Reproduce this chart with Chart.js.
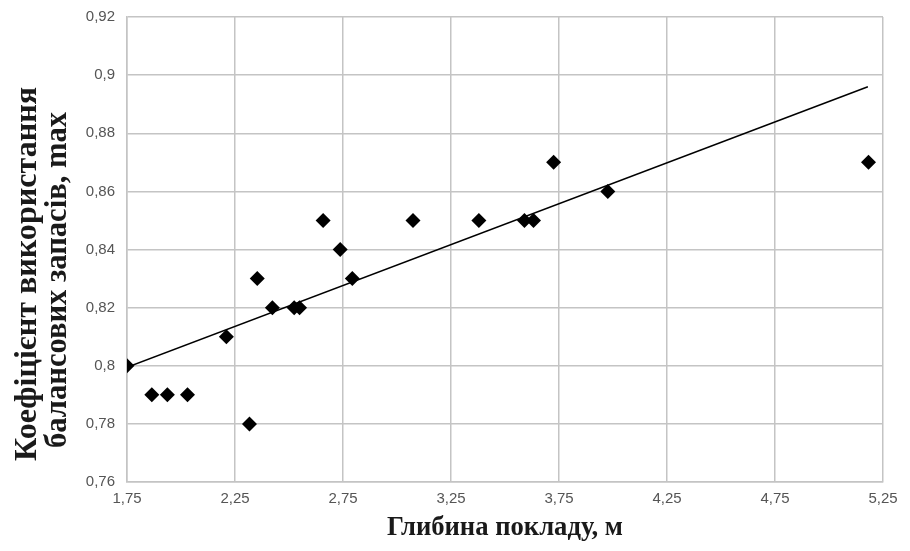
<!DOCTYPE html>
<html>
<head>
<meta charset="utf-8">
<script src="https://cdn.jsdelivr.net/npm/chart.js@4"></script>
<style>
  html, body { margin: 0; padding: 0; background: #fff; }
  #wrap { width: 910px; height: 551px; }
</style>
</head>
<body>
<div id="wrap"><canvas id="chart"></canvas></div>
<script>
// depth of the seam (m) and balance reserves usage coefficient
const depth = [1.75, 1.865, 1.937, 2.03, 2.21, 2.317, 2.353, 2.423, 2.524, 2.549,
               2.658, 2.737, 2.793, 3.074, 3.379, 3.59, 3.632, 3.725, 3.976, 5.183];
const coef  = [0.80, 0.79, 0.79, 0.79, 0.81, 0.78, 0.83, 0.82, 0.82, 0.82,
               0.85, 0.84, 0.83, 0.85, 0.85, 0.85, 0.85, 0.87, 0.86, 0.87];

// linear trend line ends
const trendX = [1.75, 5.18];
const trendY = [0.7995, 0.896];

const xTicks = [1.75, 2.25, 2.75, 3.25, 3.75, 4.25, 4.75, 5.25];
const yTicks = [0.76, 0.78, 0.8, 0.82, 0.84, 0.86, 0.88, 0.9, 0.92];

const xTitle = "Глибина покладу, м";
const yTitle = ["Коефіцієнт використання", "балансових запасів, max"];

const gridColor = "#c4c4c4";
const tickFont = { family: "'Liberation Sans', Arial, sans-serif", size: 15 };
const fmt = v => String(v).replace(".", ",");

// axis titles drawn by hand so both title lines sit where they are in the picture
const axisTitles = {
    id: "axisTitles",
    afterDraw(chart) {
        const ctx = chart.ctx;
        const drawLine = (text, x, y, len, rotate) => {
            ctx.save();
            ctx.translate(x, y);
            if (rotate) ctx.rotate(-Math.PI / 2);
            const w = ctx.measureText(text).width;
            ctx.scale(len / w, 1);
            ctx.fillText(text, 0, 0);
            ctx.restore();
        };
        ctx.save();
        ctx.fillStyle = "#1a1a1a";
        ctx.textAlign = "center";
        ctx.textBaseline = "alphabetic";
        ctx.font = "bold 27px 'Liberation Serif', 'Times New Roman', serif";
        drawLine(xTitle, 505, 535, 236, false);
        ctx.font = "bold 32px 'Liberation Serif', 'Times New Roman', serif";
        drawLine(yTitle[0], 36, 274, 374, true);
        drawLine(yTitle[1], 66, 280, 336, true);
        ctx.restore();
    }
};

new Chart(document.getElementById("chart").getContext("2d"), {
    type: "scatter",
    data: {
        datasets: [
            {
                label: "trend",
                type: "line",
                data: trendX.map((x, i) => ({ x, y: trendY[i] })),
                borderColor: "#000",
                borderWidth: 1.5,
                pointRadius: 0,
                fill: false
            },
            {
                label: "data",
                data: depth.map((x, i) => ({ x, y: coef[i] })),
                pointStyle: "rectRot",
                pointRadius: 7.5,
                backgroundColor: "#000",
                borderColor: "#000",
                borderWidth: 0
            }
        ]
    },
    options: {
        responsive: true,
        maintainAspectRatio: false,
        animation: false,
        layout: { padding: { left: 0, right: 27, top: 17, bottom: 0 } },
        plugins: { legend: { display: false }, tooltip: { enabled: false } },
        scales: {
            x: {
                type: "linear",
                min: 1.75,
                max: 5.25,
                afterBuildTicks: s => { s.ticks = xTicks.map(v => ({ value: v })); },
                afterFit: s => { s.height = 551 - 482; s.paddingLeft = 0; s.paddingRight = 0; },
                grid: { color: gridColor, lineWidth: 1.5, drawTicks: false },
                border: { color: gridColor, width: 1.5 },
                ticks: { callback: fmt, color: "#555", font: tickFont, padding: 8, maxRotation: 0 }
            },
            y: {
                type: "linear",
                min: 0.76,
                max: 0.92,
                afterBuildTicks: s => { s.ticks = yTicks.map(v => ({ value: v })); },
                afterFit: s => { s.width = 127; s.paddingTop = 0; s.paddingBottom = 0; },
                grid: { color: gridColor, lineWidth: 1.5, drawTicks: false },
                border: { color: gridColor, width: 1.5 },
                ticks: { callback: fmt, color: "#555", font: tickFont, padding: 12 }
            }
        }
    },
    plugins: [axisTitles]
});
</script>
</body>
</html>
